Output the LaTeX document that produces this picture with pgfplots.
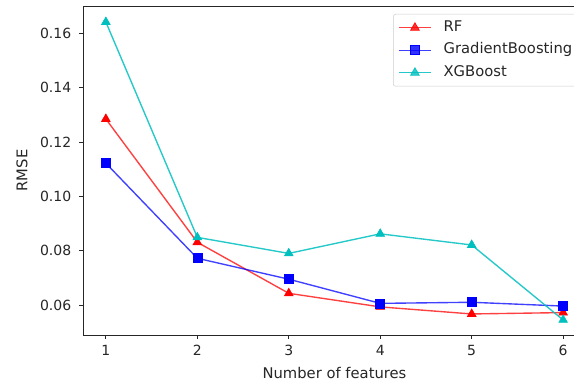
\documentclass[border=0pt]{standalone}
\usepackage{fontspec}
\setmainfont{DejaVu Sans}
\usepackage{pgfplots}
\pgfplotsset{compat=1.18}
\definecolor{mcyan}{rgb}{0,0.75,0.75}
\begin{document}
\fontsize{11.8}{14}\selectfont
\begin{tikzpicture}
\path[use as bounding box, clip] (-66.4pt,-40pt) rectangle (392.8pt,268pt);
\begin{axis}[
  at={(0pt,0pt)}, anchor=south west,
  scale only axis, width=402.4pt, height=263.2pt,
  xmin=0.75, xmax=6.25, ymin=0.04895, ymax=0.1701,
  axis y line*=left,
  xtick={1,2,3,4,5,6}, ytick={0.06,0.08,0.10,0.12,0.14,0.16},
  xtick pos=left,
  tick align=outside, major tick length=2.8pt,
  tick style={black!85, line width=0.64pt},
  axis line style={black!85, line width=0.64pt},
  ticklabel style={font=\fontsize{11.2}{13}\selectfont, text=black!85},
  /pgf/number format/assume math mode=true,
  yticklabel style={/pgf/number format/fixed, /pgf/number format/precision=2, /pgf/number format/fixed zerofill, xshift=-2.5pt},
  xticklabel style={yshift=-1.5pt},
  scaled y ticks=false,
  xlabel={Number of features}, ylabel={RMSE},
  label style={font=\fontsize{11.8}{14}\selectfont, text=black!85},
  xlabel style={at={(axis description cs:0.5,-0.1155)}, anchor=center},
  ylabel style={at={(axis description cs:-0.1213,0.5)}, anchor=center},
  legend style={at={(axis description cs:0.6163,0.9757)}, anchor=north west,
    draw=black!20, rounded corners=2pt, fill=white, fill opacity=0.8, text opacity=1,
    font=\fontsize{11.8}{14}\selectfont, text=black!85,
    inner xsep=4pt, inner ysep=5.3pt, row sep=7pt, column sep=9.6pt,
    nodes={inner sep=0pt, text height=8.5pt, text depth=2.5pt}},
  legend cell align=left,
  legend image code/.code={\draw[mark repeat=2,mark phase=2] plot coordinates {(0pt,0pt)(12.8pt,0pt)(25.6pt,0pt)};},
]
\addplot[red, draw opacity=0.75, line width=1.1pt, mark=triangle*, mark size=4pt,
  mark options={solid, fill=red, draw=red, draw opacity=1, line width=0.5pt}]
  coordinates {(1,0.1285)(2,0.0831)(3,0.0643)(4,0.0593)(5,0.0567)(6,0.0572)};
\addlegendentry{RF}
\addplot[blue, draw opacity=0.75, line width=1.1pt, mark=square*, mark size=3.6pt,
  mark options={solid, fill=blue, draw=blue, draw opacity=1, line width=0.5pt}]
  coordinates {(1,0.1122)(2,0.0772)(3,0.0695)(4,0.0606)(5,0.0610)(6,0.0596)};
\addlegendentry{GradientBoosting}
\addplot[mcyan, draw opacity=0.85, line width=1.1pt, mark=triangle*, mark size=4pt,
  mark options={solid, fill=mcyan, draw=mcyan, draw opacity=1, line width=0.5pt}]
  coordinates {(1,0.1642)(2,0.0849)(3,0.0790)(4,0.0862)(5,0.0821)(6,0.0545)};
\addlegendentry{XGBoost}
\end{axis}
\end{tikzpicture}
\end{document}
